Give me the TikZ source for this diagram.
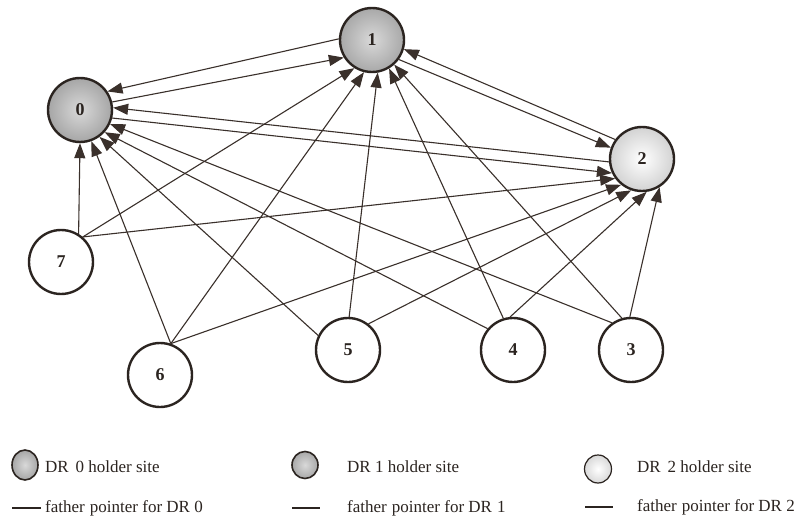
\documentclass[tikz,border=0pt]{standalone}
\usepackage{fontspec}
\setmainfont{Liberation Serif}
\usetikzlibrary{arrows.meta,shapes.geometric}
\definecolor{inkc}{HTML}{2B2420}
\definecolor{edgec}{HTML}{3A302B}
\tikzset{
  site/.style={circle, draw=inkc, line width=2.4pt, minimum size=64pt, inner sep=0pt,
    font=\fontsize{18}{18}\selectfont\bfseries, text=inkc},
  hold0/.style={site, shading=radial, inner color=gray!30, outer color=gray!70},
  hold1/.style={site, shading=radial, inner color=gray!30, outer color=gray!68},
  hold2/.style={site, shading=radial, inner color=white, outer color=gray!35},
  plain/.style={site, fill=white},
  ptr/.style={draw=edgec, line width=1.1pt, -{Triangle[length=15pt,width=11pt]}},
  legtxt/.style={anchor=west, inner sep=0pt, font=\fontsize{17}{17}\selectfont, text=inkc},
  legdash/.style={draw=inkc, line width=1.1pt},
}
\begin{document}
\begin{tikzpicture}[x=1pt,y=-1pt]
\useasboundingbox[fill=white] (0,0) rectangle (804,519);
% sites
\node[hold0] (n0) at (80,110) {0};
\node[hold1] (n1) at (372,40) {1};
\node[hold2] (n2) at (642,159) {2};
\node[plain] (n7) at (61,262) {7};
\node[plain] (n6) at (160,375) {6};
\node[plain] (n5) at (348,350) {5};
\node[plain] (n4) at (513,350) {4};
\node[plain] (n3) at (631,350) {3};
% pointers among holders
\draw[ptr] (n1.178) -- (n0.34);
\draw[ptr] (n0.14) -- (n1.212);
\draw[ptr] (n2.185) -- (n0.4);
\draw[ptr] (n0.-14) -- (n2.205);
\draw[ptr] (n2.144) -- (n1.344);
\draw[ptr] (n1.324) -- (n2.160);
% from 7
\draw[ptr] (n7.58) -- (n0.-90);
\draw[ptr] (n7.49) -- (n1.238);
\draw[ptr] (n7.49) -- (n2.216);
% from 6
\draw[ptr] (n6.71) -- (n0.-70);
\draw[ptr] (n6.71) -- (n1.256);
\draw[ptr] (n6.71) -- (n2.231);
% from 5
\draw[ptr] (n5.154) -- (n0.-54);
\draw[ptr] (n5.88) -- (n1.280);
\draw[ptr] (n5.52) -- (n2.251);
% from 4
\draw[ptr] (n4.140) -- (n0.-42);
\draw[ptr] (n4.107) -- (n1.301);
\draw[ptr] (n4.95) -- (n2.278);
% from 3
\draw[ptr] (n3.125) -- (n0.-25);
\draw[ptr] (n3.106) -- (n1.312);
\draw[ptr] (n3.92) -- (n2.302);
% legend
\node[ellipse, draw=inkc, line width=1.6pt, minimum width=26pt, minimum height=30pt, inner sep=0pt,
  shading=radial, inner color=gray!30, outer color=gray!70] (lg0) at (25,465) {};
\node[ellipse, draw=inkc, line width=1.6pt, minimum width=26pt, minimum height=27pt, inner sep=0pt,
  shading=radial, inner color=gray!30, outer color=gray!68] (lg1) at (305,465) {};
\node[ellipse, draw=inkc, line width=1.2pt, minimum width=27pt, minimum height=28pt, inner sep=0pt,
  shading=radial, inner color=white, outer color=gray!30] (lg2) at (598,469) {};
\node[legtxt] (t0) at (45,467) {DR\hspace{0.4em}0 holder site};
\node[legtxt] (t1) at (347,467) {DR 1 holder site};
\node[legtxt] (t2) at (637,467) {DR\hspace{0.4em}2 holder site};
\coordinate (d0a) at (12,508); \coordinate (d0b) at (41,508);
\coordinate (d1a) at (292,508); \coordinate (d1b) at (320,508);
\coordinate (d2a) at (585,507); \coordinate (d2b) at (613,507);
\draw[legdash] (d0a) -- (d0b);
\draw[legdash] (d1a) -- (d1b);
\draw[legdash] (d2a) -- (d2b);
\node[legtxt] (f0) at (45,508) {father\hspace{0.3em}pointer for DR 0};
\node[legtxt] (f1) at (347,508) {father\hspace{0.3em}pointer for DR\hspace{0.3em}1};
\node[legtxt] (f2) at (637,507) {father\hspace{0.3em}pointer for DR 2};
\end{tikzpicture}
\end{document}
